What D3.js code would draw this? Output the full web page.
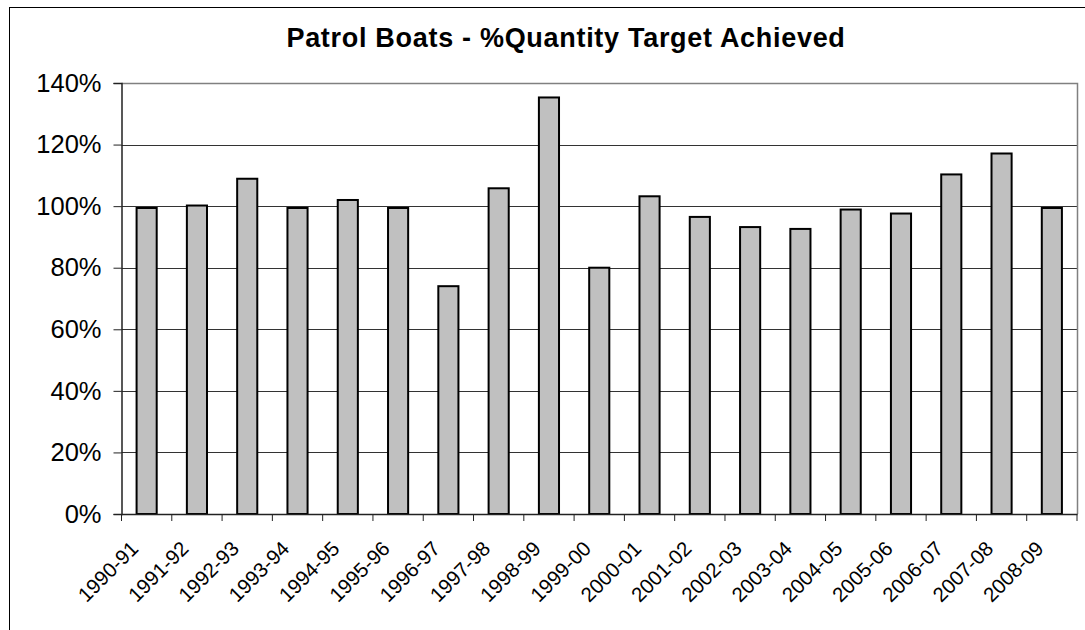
<!DOCTYPE html>
<html>
<head>
<meta charset="utf-8">
<script src="https://cdn.jsdelivr.net/npm/d3@7"></script>
<style>
  html, body { margin: 0; padding: 0; background: #fff; }
  svg { display: block; }
</style>
</head>
<body>
<svg id="chart" width="1085" height="630"></svg>
<script>
const categories = ["1990-91","1991-92","1992-93","1993-94","1994-95","1995-96","1996-97","1997-98","1998-99","1999-00","2000-01","2001-02","2002-03","2003-04","2004-05","2005-06","2006-07","2007-08","2008-09"];
const values = [99.4, 100.2, 108.9, 99.4, 102.0, 99.4, 74.0, 105.8, 135.3, 80.0, 103.2, 96.5, 93.2, 92.6, 98.9, 97.6, 110.3, 117.1, 99.4];
const yTicks = [0, 20, 40, 60, 80, 100, 120, 140];
const title = "Patrol Boats - %Quantity Target Achieved";

const svg = d3.select("#chart");
const W = 1085, H = 630;
const m = { left: 121.5, right: 1077, top: 83, bottom: 514 };

svg.append("rect").attr("width", W).attr("height", H).attr("fill", "#fff");
// outer chart border
svg.append("rect").attr("x", 9.5).attr("y", 7.5).attr("width", W + 20).attr("height", H + 20)
  .attr("fill", "none").attr("stroke", "#000").attr("stroke-width", 1);

const x = d3.scaleBand().domain(categories).range([m.left, m.right]).paddingInner(0.6).paddingOuter(0.3);
const xb = d3.scaleBand().domain(categories).range([m.left, m.right]).padding(0);
const y = d3.scaleLinear().domain([0, 140]).range([m.bottom, m.top]);

// gridlines
svg.append("g").selectAll("line").data(yTicks.filter(d => d > 0 && d < 140)).join("line")
  .attr("x1", m.left).attr("x2", m.right)
  .attr("y1", d => Math.round(y(d)) + 0.5).attr("y2", d => Math.round(y(d)) + 0.5)
  .attr("stroke", "#333").attr("stroke-width", 1);

// plot border top/right
svg.append("path")
  .attr("d", `M${m.left},${m.top + 0.5}H${m.right + 0.5}V${m.bottom}`)
  .attr("fill", "none").attr("stroke", "#808080").attr("stroke-width", 1.5);

// bars
svg.append("g").selectAll("rect").data(values).join("rect")
  .attr("x", (d, i) => x(categories[i]))
  .attr("width", x.bandwidth())
  .attr("y", d => y(d))
  .attr("height", d => y(0) - y(d))
  .attr("fill", "#c0c0c0").attr("stroke", "#000").attr("stroke-width", 2);

// y axis
const yAxis = d3.axisLeft(y).tickValues(yTicks).tickFormat(d => d + "%").tickSize(8).tickPadding(12);
const gy = svg.append("g").attr("transform", `translate(${m.left},0)`).call(yAxis);
gy.select(".domain").attr("stroke", "#222").attr("stroke-width", 1.5);
gy.selectAll(".tick line").attr("stroke", "#222").attr("stroke-width", 1);
gy.selectAll("text").attr("font-family", "Liberation Sans, Arial, sans-serif").attr("font-size", 25.5).attr("fill", "#000");

// x axis
const xAxis = d3.axisBottom(xb).tickSize(0).tickFormat("");
const gx = svg.append("g").attr("transform", `translate(0,${m.bottom})`).call(xAxis);
gx.select(".domain").attr("stroke", "#222").attr("stroke-width", 1.5);
// tick marks at category boundaries
const bounds = categories.map(c => xb(c)).concat([m.right]);
svg.append("g").selectAll("line").data(bounds).join("line")
  .attr("x1", d => d).attr("x2", d => d)
  .attr("y1", m.bottom).attr("y2", m.bottom + 7)
  .attr("stroke", "#222").attr("stroke-width", 1);

// x labels rotated
svg.append("g").selectAll("text").data(categories).join("text")
  .attr("transform", d => `translate(${xb(d) + xb.bandwidth() / 2 - 7},${m.bottom + 36}) rotate(-45)`)
  .attr("text-anchor", "end")
  .attr("font-family", "Liberation Sans, Arial, sans-serif")
  .attr("font-size", 20.5)
  .attr("fill", "#000")
  .text(d => d);

// title
svg.append("text")
  .attr("x", 566).attr("y", 47)
  .attr("text-anchor", "middle")
  .attr("font-family", "Liberation Sans, Arial, sans-serif")
  .attr("font-weight", "bold").attr("font-size", 27)
  .attr("letter-spacing", 0.7)
  .attr("fill", "#000")
  .text(title);
</script>
</body>
</html>
